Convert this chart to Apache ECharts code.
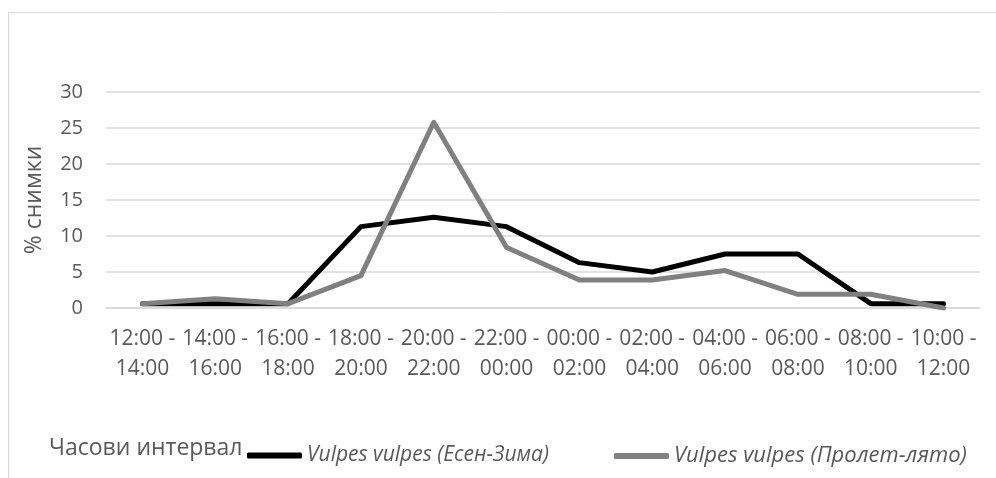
<!DOCTYPE html>
<html>
<head>
<meta charset="utf-8">
<script src="https://cdn.jsdelivr.net/npm/echarts@6/dist/echarts.min.js"></script>
<style>
html,body{margin:0;padding:0;background:#fff;}
#chart{width:996px;height:478px;}
</style>
</head>
<body>
<div id="chart"></div>
<script>
const categories = [
  "12:00 -\n14:00", "14:00 -\n16:00", "16:00 -\n18:00", "18:00 -\n20:00",
  "20:00 -\n22:00", "22:00 -\n00:00", "00:00 -\n02:00", "02:00 -\n04:00",
  "04:00 -\n06:00", "06:00 -\n08:00", "08:00 -\n10:00", "10:00 -\n12:00"
];
const autumnWinter = [0.6, 0.6, 0.6, 11.3, 12.6, 11.3, 6.3, 5.0, 7.5, 7.5, 0.6, 0.6];
const springSummer = [0.6, 1.3, 0.6, 4.5, 25.8, 8.4, 3.9, 3.9, 5.2, 1.9, 1.9, 0.0];
const yTicks = { min: 0, max: 30, interval: 5 };
const nameAW = "Vulpes vulpes (Есен-Зима)";
const nameSS = "Vulpes vulpes (Пролет-лято)";
const legendTitle = "Часови интервал";
const yAxisName = "% снимки";

const font = "'Open Sans', 'DejaVu Sans', sans-serif";
const textColor = "#595959";
function legendAt(id, name, left, size) {
  return {
    id: id, show: true,
    data: [name],
    left: left, top: 440,
    orient: 'horizontal',
    itemWidth: 55, itemHeight: 6,
    icon: 'roundRect',
    textStyle: { fontFamily: font, fontSize: size, fontStyle: 'italic', color: textColor }
  };
}
const chart = echarts.init(document.getElementById('chart'));
chart.setOption({
  animation: false,
  backgroundColor: '#ffffff',
  textStyle: { fontFamily: font },
  graphic: [
    { type: 'rect', shape: { x: 8.5, y: 12.5, width: 1000, height: 500 },
      style: { fill: 'none', stroke: '#d9d9d9', lineWidth: 1 }, z: -1 },
    { type: 'text', left: 49, top: 437,
      style: { text: legendTitle, fontFamily: font, fontSize: 23, fill: textColor } }
  ],
  legend: [legendAt('lgAW', nameAW, 242, 21), legendAt('lgSS', nameSS, 609, 22)],
  grid: { left: 106, right: 16, top: 92, bottom: 170, containLabel: false },
  xAxis: {
    type: 'category',
    data: categories,
    boundaryGap: true,
    axisLine: { show: true, lineStyle: { color: '#d9d9d9', width: 1.5 } },
    axisTick: { show: false },
    axisLabel: { interval: 0, color: textColor, fontFamily: font, fontSize: 21, lineHeight: 30, margin: 16 }
  },
  yAxis: {
    type: 'value',
    min: yTicks.min, max: yTicks.max, interval: yTicks.interval,
    name: yAxisName,
    nameLocation: 'middle',
    nameGap: 60,
    nameTextStyle: { color: textColor, fontFamily: font, fontSize: 23 },
    axisLine: { show: false },
    axisTick: { show: false },
    axisLabel: { color: textColor, fontFamily: font, fontSize: 20, margin: 23 },
    splitLine: { lineStyle: { color: '#d9d9d9', width: 1.5 } }
  },
  series: [
    { name: nameAW, type: 'line', data: autumnWinter, symbol: 'none',
      lineStyle: { color: '#000000', width: 5, cap: 'round', join: 'round' },
      itemStyle: { color: '#000000' } },
    { name: nameSS, type: 'line', data: springSummer, symbol: 'none',
      lineStyle: { color: '#808080', width: 5, cap: 'round', join: 'round' },
      itemStyle: { color: '#808080' } }
  ]
});
</script>
</body>
</html>
